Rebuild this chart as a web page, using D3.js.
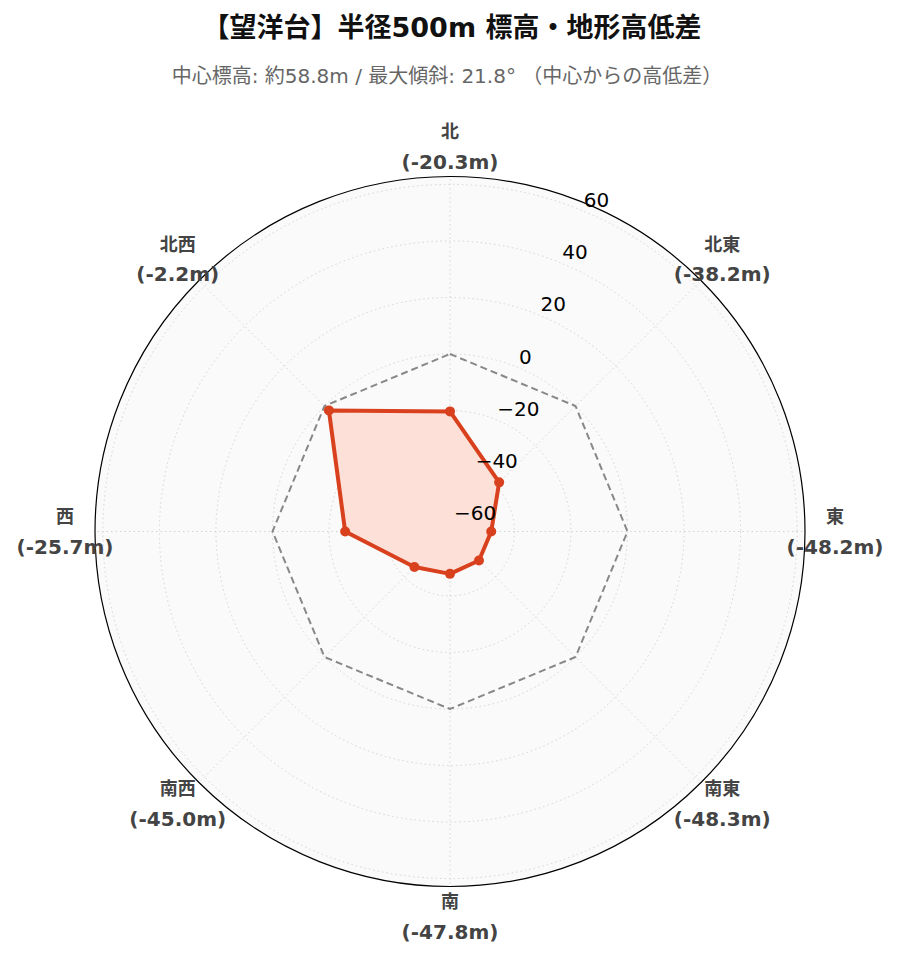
<!DOCTYPE html>
<html>
<head>
<meta charset="utf-8">
<script src="https://cdn.jsdelivr.net/npm/d3@7/dist/d3.min.js"></script>
<style>
  html, body { margin: 0; padding: 0; background: #ffffff; }
  svg { display: block; }
</style>
</head>
<body>
<svg id="chart" width="899" height="962"></svg>
<script>
// ---- data ----
const directions = ["北", "北東", "東", "南東", "南", "南西", "西", "北西"];
const elevDiffs = [-20.3, -38.2, -48.2, -48.3, -47.8, -45.0, -25.7, -2.2];
const referenceLevel = [0, 0, 0, 0, 0, 0, 0, 0];
const radialTicks = [-60, -40, -20, 0, 20, 40, 60];
const radialDomain = [-62.79, 62.79];
const titleText = "【望洋台】半径500m 標高・地形高低差";
const subtitleText = "中心標高: 約58.8m / 最大傾斜: 21.8° （中心からの高低差）";

// ---- layout ----
const W = 899, H = 962;
const cx = 450, cy = 531.5, R = 355;
const FONT = "'DejaVu Sans', 'Noto Sans CJK JP', sans-serif";

const svg = d3.select("#chart");
const g = svg.append("g").attr("transform", `translate(${cx},${cy})`);

const r = d3.scaleLinear().domain(radialDomain).range([0, R]);
const angle = d3.scalePoint().domain(directions).range([0, 2 * Math.PI * (directions.length - 1) / directions.length]);

const px = (a, rad) => rad * Math.sin(a);
const py = (a, rad) => -rad * Math.cos(a);

// background
g.append("circle").attr("r", R).attr("fill", "#fafafa");

// circular grid
g.selectAll("circle.grid").data(radialTicks).join("circle")
  .attr("class", "grid")
  .attr("r", d => r(d))
  .attr("fill", "none")
  .attr("stroke", "#d4d4d4")
  .attr("stroke-width", 1)
  .attr("stroke-dasharray", "1.5,3");

// angular grid
g.selectAll("line.spoke").data(directions).join("line")
  .attr("class", "spoke")
  .attr("x1", 0).attr("y1", 0)
  .attr("x2", d => px(angle(d), R))
  .attr("y2", d => py(angle(d), R))
  .attr("stroke", "#d4d4d4")
  .attr("stroke-width", 1)
  .attr("stroke-dasharray", "1.5,3");

const radial = d3.lineRadial()
  .angle((d, i) => angle(directions[i]))
  .radius(d => r(d))
  .curve(d3.curveLinearClosed);

// reference (0m) dashed polygon
g.append("path")
  .datum(referenceLevel)
  .attr("d", radial)
  .attr("fill", "none")
  .attr("stroke", "#888888")
  .attr("stroke-width", 2)
  .attr("stroke-dasharray", "7,4");

// data polygon
g.append("path")
  .datum(elevDiffs)
  .attr("d", radial)
  .attr("fill", "#fde0d8")
  .attr("stroke", "#d9411e")
  .attr("stroke-width", 4)
  .attr("stroke-linejoin", "round");

g.selectAll("circle.pt").data(elevDiffs).join("circle")
  .attr("class", "pt")
  .attr("cx", (d, i) => px(angle(directions[i]), r(d)))
  .attr("cy", (d, i) => py(angle(directions[i]), r(d)))
  .attr("r", 5)
  .attr("fill", "#d9411e");

// outer frame
g.append("circle").attr("r", R).attr("fill", "none").attr("stroke", "#000").attr("stroke-width", 1.2);

// radial tick labels at 22.5°
const labelAngle = Math.PI / 8;
g.selectAll("text.rtick").data(radialTicks).join("text")
  .attr("class", "rtick")
  .attr("x", d => px(labelAngle, r(d)) + 1)
  .attr("y", d => py(labelAngle, r(d)) - 4)
  .attr("text-anchor", "start")
  .attr("font-family", FONT)
  .attr("font-size", 20)
  .attr("fill", "#000")
  .text(d => d < 0 ? "\u2212" + Math.abs(d) : String(d));

// direction labels
const labelR = R + 30;
const dl = g.selectAll("g.dir").data(directions).join("g")
  .attr("class", "dir")
  .attr("transform", d => `translate(${px(angle(d), labelR)},${py(angle(d), labelR)})`);
dl.append("text")
  .attr("y", -15)
  .attr("text-anchor", "middle")
  .attr("dominant-baseline", "central")
  .attr("font-family", FONT)
  .attr("font-weight", "bold")
  .attr("font-size", 18)
  .attr("fill", "#444")
  .text(d => d);
dl.append("text")
  .attr("y", 15)
  .attr("text-anchor", "middle")
  .attr("dominant-baseline", "central")
  .attr("font-family", FONT)
  .attr("font-weight", "bold")
  .attr("font-size", 20)
  .attr("fill", "#444")
  .text((d, i) => `(${elevDiffs[i].toFixed(1)}m)`);

// titles
svg.append("text")
  .attr("x", 452).attr("y", 27)
  .attr("text-anchor", "middle")
  .attr("dominant-baseline", "central")
  .attr("font-family", FONT)
  .attr("font-weight", "bold")
  .attr("font-size", 27)
  .attr("fill", "#111")
  .text(titleText);

svg.append("text")
  .attr("x", 447).attr("y", 76)
  .attr("text-anchor", "middle")
  .attr("dominant-baseline", "central")
  .attr("font-family", FONT)
  .attr("font-size", 20)
  .attr("fill", "#666")
  .text(subtitleText);
</script>
</body>
</html>
